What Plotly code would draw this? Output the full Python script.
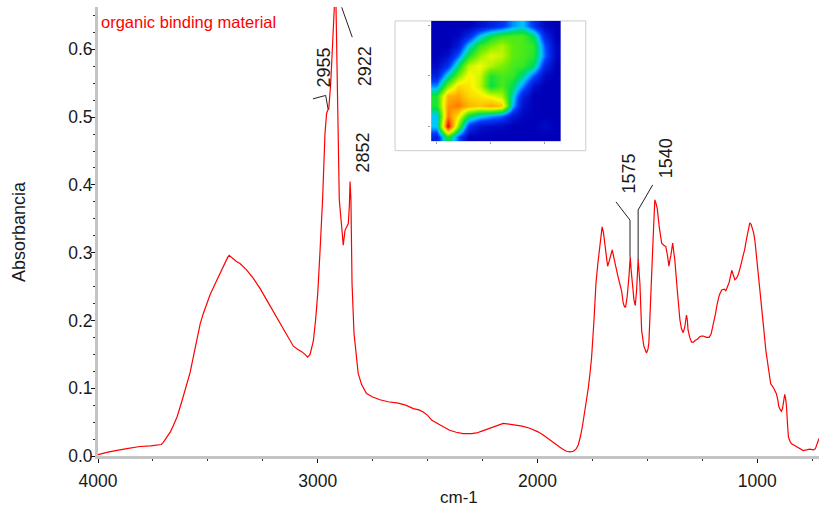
import plotly.graph_objects as go

# ---------------- data ----------------
wavenumber = [4000, 3950, 3869, 3809, 3760, 3733, 3712, 3703, 3688, 3670, 3657, 3640, 3619, 3600,
              3581, 3565, 3551, 3535, 3521, 3505, 3490, 3470, 3445, 3425, 3410, 3403, 3390, 3370,
              3354, 3325, 3293, 3262, 3232, 3200, 3172, 3140, 3111, 3090, 3073, 3058, 3046, 3035,
              3020, 3010, 3000, 2990, 2978, 2967, 2960, 2955, 2950, 2941, 2929, 2925, 2922, 2917,
              2911, 2902, 2891, 2884, 2876, 2868, 2861, 2856, 2853, 2849, 2844, 2835, 2825, 2816,
              2800, 2778, 2750, 2717, 2680, 2634, 2600, 2565, 2540, 2520, 2500, 2482, 2455, 2429,
              2400, 2370, 2338, 2300, 2277, 2250, 2216, 2180, 2156, 2130, 2110, 2070, 2035, 2000,
              1974, 1945, 1913, 1890, 1868, 1850, 1837, 1825, 1815, 1805, 1795, 1785, 1775, 1769,
              1760, 1754, 1743, 1734, 1725, 1719, 1712, 1706, 1700, 1693, 1687, 1681, 1676, 1671,
              1665, 1660, 1654, 1648, 1640, 1633, 1625, 1617, 1610, 1604, 1599, 1592, 1584, 1578,
              1574, 1570, 1561, 1555, 1549, 1542, 1538, 1534, 1526, 1516, 1504, 1497, 1493, 1484,
              1476, 1470, 1466, 1460, 1455, 1446, 1435, 1425, 1416, 1408, 1402, 1397, 1393, 1385,
              1378, 1375, 1364, 1352, 1345, 1337, 1330, 1322, 1318, 1315, 1307, 1299, 1290, 1284,
              1270, 1262, 1254, 1246, 1231, 1219, 1210, 1201, 1190, 1182, 1172, 1162, 1150, 1143,
              1135, 1128, 1116, 1108, 1102, 1095, 1087, 1080, 1072, 1065, 1057, 1050, 1044, 1038,
              1034, 1028, 1023, 1017, 1011, 1004, 996, 990, 984, 973, 961, 949, 939, 925,
              913, 906, 902, 895, 890, 885, 880, 875, 871, 867, 862, 858, 850, 844,
              822, 800, 791, 775, 761, 745, 738, 733, 727, 719]

absorbance = [0.002, 0.006, 0.011, 0.014, 0.015, 0.016, 0.017, 0.020, 0.027, 0.036, 0.045, 0.058, 0.080, 0.100,
              0.123, 0.148, 0.172, 0.195, 0.210, 0.225, 0.238, 0.252, 0.270, 0.284, 0.293, 0.296, 0.292, 0.287,
              0.284, 0.275, 0.262, 0.247, 0.230, 0.212, 0.196, 0.178, 0.162, 0.157, 0.154, 0.150, 0.146, 0.150,
              0.170, 0.200, 0.240, 0.300, 0.378, 0.476, 0.505, 0.510, 0.512, 0.550, 0.623, 0.665, 0.680, 0.665,
              0.525, 0.378, 0.338, 0.311, 0.333, 0.338, 0.343, 0.370, 0.405, 0.378, 0.255, 0.181, 0.145, 0.122,
              0.105, 0.092, 0.087, 0.083, 0.080, 0.078, 0.075, 0.070, 0.068, 0.065, 0.060, 0.053, 0.048, 0.043,
              0.038, 0.035, 0.033, 0.033, 0.034, 0.037, 0.041, 0.045, 0.048, 0.047, 0.046, 0.044, 0.041, 0.036,
              0.031, 0.024, 0.016, 0.011, 0.007, 0.006, 0.007, 0.010, 0.016, 0.028, 0.045, 0.065, 0.085, 0.100,
              0.125, 0.145, 0.200, 0.255, 0.285, 0.304, 0.325, 0.338, 0.330, 0.309, 0.290, 0.280, 0.285, 0.291,
              0.300, 0.304, 0.295, 0.284, 0.274, 0.264, 0.255, 0.243, 0.226, 0.220, 0.220, 0.235, 0.264, 0.294,
              0.275, 0.258, 0.230, 0.222, 0.245, 0.290, 0.275, 0.255, 0.185, 0.162, 0.152, 0.158, 0.168, 0.230,
              0.304, 0.350, 0.378, 0.372, 0.365, 0.338, 0.314, 0.311, 0.309, 0.295, 0.280, 0.290, 0.296, 0.314,
              0.300, 0.289, 0.245, 0.201, 0.188, 0.182, 0.190, 0.208, 0.200, 0.186, 0.175, 0.168, 0.168, 0.170,
              0.173, 0.176, 0.177, 0.177, 0.175, 0.175, 0.180, 0.192, 0.210, 0.225, 0.238, 0.245, 0.246, 0.244,
              0.250, 0.256, 0.274, 0.264, 0.260, 0.262, 0.267, 0.275, 0.285, 0.295, 0.305, 0.318, 0.328, 0.340,
              0.344, 0.342, 0.337, 0.330, 0.319, 0.298, 0.270, 0.250, 0.230, 0.196, 0.156, 0.127, 0.107, 0.100,
              0.092, 0.082, 0.073, 0.068, 0.066, 0.070, 0.085, 0.091, 0.085, 0.073, 0.045, 0.028, 0.021, 0.018,
              0.014, 0.010, 0.008, 0.009, 0.010, 0.009, 0.010, 0.013, 0.020, 0.026]

# peak labels: (text, label x, label y)
peak_labels = ["2955", "2922", "2852", "1575", "1540"]
peak_label_x = [2972, 2785, 2796, 1582, 1418]
peak_label_y = [0.573, 0.575, 0.447, 0.4175, 0.440]

# leader lines for the labels (wavenumber, absorbance vertices)
leader_x = [[3022, 2964, 2953], [2891, 2843], [1643, 1579, 1579], [1476, 1542, 1542]]
leader_y = [[0.527, 0.532, 0.512], [0.662, 0.618], [0.375, 0.348, 0.294], [0.400, 0.363, 0.289]]

# inset map intensity (rows top -> bottom)
inset_map = [
    [0, 0, 0, 0, 0.05, 0.10, 0.15, 0.25, 0.30, 0.15, 0.02, 0],
    [0, 0, 0.02, 0.12, 0.30, 0.42, 0.48, 0.50, 0.50, 0.40, 0.12, 0],
    [0, 0, 0.08, 0.32, 0.48, 0.55, 0.60, 0.52, 0.50, 0.47, 0.20, 0.02],
    [0, 0.05, 0.22, 0.45, 0.58, 0.65, 0.62, 0.52, 0.50, 0.46, 0.22, 0.02],
    [0.03, 0.15, 0.40, 0.62, 0.67, 0.60, 0.55, 0.50, 0.48, 0.40, 0.12, 0],
    [0.10, 0.35, 0.55, 0.68, 0.63, 0.45, 0.50, 0.48, 0.38, 0.20, 0.03, 0],
    [0.25, 0.55, 0.72, 0.70, 0.62, 0.42, 0.50, 0.42, 0.25, 0.05, 0, 0],
    [0.45, 0.78, 0.80, 0.72, 0.70, 0.65, 0.60, 0.35, 0.10, 0, 0, 0],
    [0.45, 0.82, 0.85, 0.78, 0.75, 0.80, 0.75, 0.30, 0.05, 0, 0, 0],
    [0.30, 0.85, 0.70, 0.42, 0.32, 0.27, 0.22, 0.08, 0.02, 0, 0, 0],
    [0.30, 1.00, 0.55, 0.15, 0.05, 0.03, 0.02, 0, 0, 0, 0.03, 0],
    [0.10, 0.45, 0.20, 0, 0, 0, 0, 0, 0, 0, 0, 0],
]

FONT = "Liberation Sans, Arial, sans-serif"
TXT = "#1a1a1a"

fig = go.Figure()

fig.add_trace(go.Scatter(x=wavenumber, y=absorbance, mode="lines",
                         line=dict(color="#ff0000", width=1.2), showlegend=False,
                         hoverinfo="x+y"))

jet = [[0.0, "rgb(0,0,185)"], [0.18, "rgb(0,60,255)"], [0.3, "rgb(0,200,255)"],
       [0.42, "rgb(0,225,70)"], [0.55, "rgb(120,240,0)"], [0.67, "rgb(250,250,0)"],
       [0.8, "rgb(255,165,0)"], [0.9, "rgb(255,80,0)"], [1.0, "rgb(205,0,0)"]]
fig.add_trace(go.Heatmap(z=inset_map, colorscale=jet, zmin=0, zmax=1, zsmooth="best",
                         showscale=False, xaxis="x2", yaxis="y2", hoverinfo="skip"))

# leader lines
for lx, ly in zip(leader_x, leader_y):
    path = "M " + " L ".join(f"{a},{b}" for a, b in zip(lx, ly))
    fig.add_shape(type="path", path=path, xref="x", yref="y",
                  line=dict(color="#222222", width=1))

# inset frame
fig.add_shape(type="rect", xref="paper", yref="paper", x0=0.412, x1=0.6765, y0=0.680, y1=0.969,
              line=dict(color="#cccccc", width=1), fillcolor="white", layer="below")

annotations = []
for t, x, y in zip(peak_labels, peak_label_x, peak_label_y):
    annotations.append(dict(text=t, x=x, y=y, xref="x", yref="y", showarrow=False,
                            textangle=-90, font=dict(family=FONT, size=18, color=TXT),
                            xanchor="center", yanchor="middle"))
annotations.append(dict(text="organic binding material", x=0.002, y=0.9677, xref="paper", yref="paper",
                        showarrow=False, xanchor="left", yanchor="middle",
                        font=dict(family=FONT, size=16.5, color="#ff0000")))
annotations.append(dict(text="Absorbancia", x=-0.1096, y=0.501, xref="paper", yref="paper",
                        showarrow=False, textangle=-90, xanchor="center", yanchor="middle",
                        font=dict(family=FONT, size=18, color=TXT)))
annotations.append(dict(text="cm-1", x=0.5, y=-0.0924, xref="paper", yref="paper",
                        showarrow=False, xanchor="center", yanchor="middle",
                        font=dict(family=FONT, size=17, color=TXT)))

axis_common = dict(showline=True, linecolor="#c4c4c4", linewidth=3, showgrid=False,
                   zeroline=False, ticks="outside", tickcolor="#111111", ticklen=4, tickwidth=1,
                   tickfont=dict(family=FONT, size=17.5, color=TXT))

fig.update_layout(
    width=819, height=511,
    margin=dict(l=98, r=0, t=7, b=55),
    paper_bgcolor="white", plot_bgcolor="white",
    xaxis=dict(range=[4000, 719], tickmode="linear", tick0=1000, dtick=1000,
               ticklabelstandoff=3,
               minor=dict(dtick=250, tick0=1000, ticks="outside", ticklen=2, tickcolor="#333333"),
               **axis_common),
    yaxis=dict(range=[0, 0.6625], tickmode="linear", tick0=0, dtick=0.1, tickformat=".1f",
               ticklabelstandoff=-5,
               minor=dict(dtick=0.025, tick0=0, ticks="outside", ticklen=2, tickcolor="#333333"),
               **axis_common),
    xaxis2=dict(domain=[0.462, 0.6417], anchor="y2", showticklabels=False, showgrid=False,
                zeroline=False, ticks="outside", ticklen=2, tickcolor="#999999",
                range=[-0.5, 11.5], showline=False),
    yaxis2=dict(domain=[0.701, 0.9695], anchor="x2", showticklabels=False, showgrid=False,
                zeroline=False, ticks="outside", ticklen=2, tickcolor="#999999",
                range=[11.5, -0.5], showline=False),
    annotations=annotations,
    showlegend=False,
)

fig.write_html("out.html", config={"displayModeBar": False},
               post_script="document.body.style.margin='0';document.body.style.overflow='hidden';")
